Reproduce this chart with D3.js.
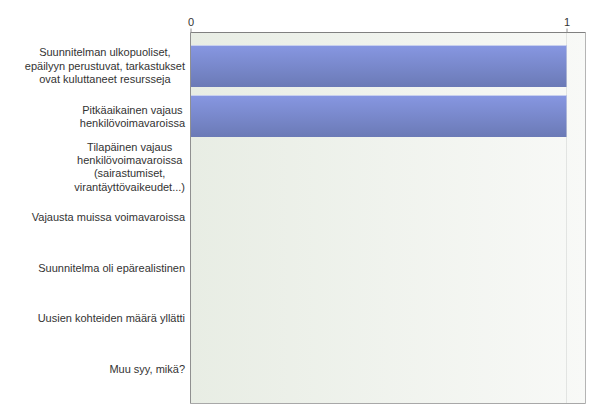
<!DOCTYPE html>
<html><head><meta charset="utf-8">
<script src="https://cdn.jsdelivr.net/npm/d3@7"></script>
<style>body{margin:0;background:#fff}svg{display:block}text{font-family:"Liberation Sans",Arial,sans-serif}</style>
</head><body>
<script>
const categories = [
  ["Suunnitelman ulkopuoliset,","epäilyyn perustuvat, tarkastukset","ovat kuluttaneet resursseja"],
  ["Pitkäaikainen vajaus","henkilövoimavaroissa"],
  ["Tilapäinen vajaus","henkilövoimavaroissa","(sairastumiset,","virantäyttövaikeudet...)"],
  ["Vajausta muissa voimavaroissa"],
  ["Suunnitelma oli epärealistinen"],
  ["Uusien kohteiden määrä yllätti"],
  ["Muu syy, mikä?"]
];
const values = [1, 1, 0, 0, 0, 0, 0];
const tickValues = [0, 1];

const W = 600, H = 418;
const plot = {left: 190.5, top: 32.5, right: 585.5, bottom: 403.5};
const svg = d3.select("body").append("svg").attr("width", W).attr("height", H);
const defs = svg.append("defs");
const bg = defs.append("linearGradient").attr("id","bg").attr("x1","0").attr("x2","1").attr("y1","0").attr("y2","0");
bg.append("stop").attr("offset","0").attr("stop-color","#e8ede4");
bg.append("stop").attr("offset","1").attr("stop-color","#f8f9f7");
const bar = defs.append("linearGradient").attr("id","bar").attr("x1","0").attr("x2","0").attr("y1","0").attr("y2","1");
bar.append("stop").attr("offset","0").attr("stop-color","#8797e2");
bar.append("stop").attr("offset","1").attr("stop-color","#6b7ab6");

const x = d3.scaleLinear().domain([0,1]).range([plot.left, 566.5]);
const y = d3.scaleBand().domain(d3.range(categories.length)).range([40.5, 394]).paddingInner(0.17).paddingOuter(0.085);

svg.append("rect").attr("x",plot.left).attr("y",plot.top).attr("width",plot.right-plot.left).attr("height",plot.bottom-plot.top).attr("fill","url(#bg)");
svg.append("line").attr("x1",x(1)).attr("x2",x(1)).attr("y1",plot.top).attr("y2",plot.bottom).attr("stroke","#e2e4e2");
svg.selectAll(".bar").data(values).join("rect")
  .attr("x", x(0)).attr("y",(d,i)=>Math.round(y(i))).attr("width",d=>x(d)-x(0)).attr("height",Math.round(y.bandwidth()))
  .attr("fill","url(#bar)");
svg.selectAll(".bartop").data(values.filter(v=>v>0)).join("line")
  .attr("x1",x(0)).attr("x2",d=>x(d)).attr("y1",(d,i)=>Math.round(y(i))+0.5).attr("y2",(d,i)=>Math.round(y(i))+0.5)
  .attr("stroke","#c8d0ee").attr("stroke-width",1);
svg.append("line").attr("x1",plot.right).attr("x2",plot.right).attr("y1",plot.top).attr("y2",plot.bottom).attr("stroke","#b4b4b4");
svg.append("line").attr("x1",plot.left).attr("x2",plot.right).attr("y1",plot.bottom).attr("y2",plot.bottom).attr("stroke","#a8a8a8");
svg.append("line").attr("x1",plot.left).attr("x2",plot.right).attr("y1",plot.top).attr("y2",plot.top).attr("stroke","#808080");
svg.append("line").attr("x1",plot.left).attr("x2",plot.left).attr("y1",plot.top).attr("y2",plot.bottom).attr("stroke","#909090");
const ax = svg.append("g").attr("transform",`translate(0,${plot.top})`).call(d3.axisTop(x).tickValues(tickValues).tickFormat(d3.format("d")).tickSize(4).tickPadding(3));
ax.select(".domain").remove();
ax.selectAll("line").attr("stroke","#909090");
ax.selectAll("text").attr("fill","#333").attr("font-size",11).attr("font-family","Liberation Sans, Arial, sans-serif");
const lh = 13.3;
const lab = svg.append("g");
categories.forEach((lines,i)=>{
  const cy = y(i) + y.bandwidth()/2;
  const t = lab.append("text").attr("text-anchor","middle").attr("fill","#333").attr("font-size",11);
  const spans = lines.map((l,j)=>t.append("tspan").attr("x",0).attr("dy", j===0?0:lh).text(l));
  const maxW = d3.max(spans, s=>s.node().getComputedTextLength());
  t.attr("transform",`translate(${185 - maxW/2},${cy - (lines.length-1)*lh/2 + 4})`);
});
</script>
</body></html>
